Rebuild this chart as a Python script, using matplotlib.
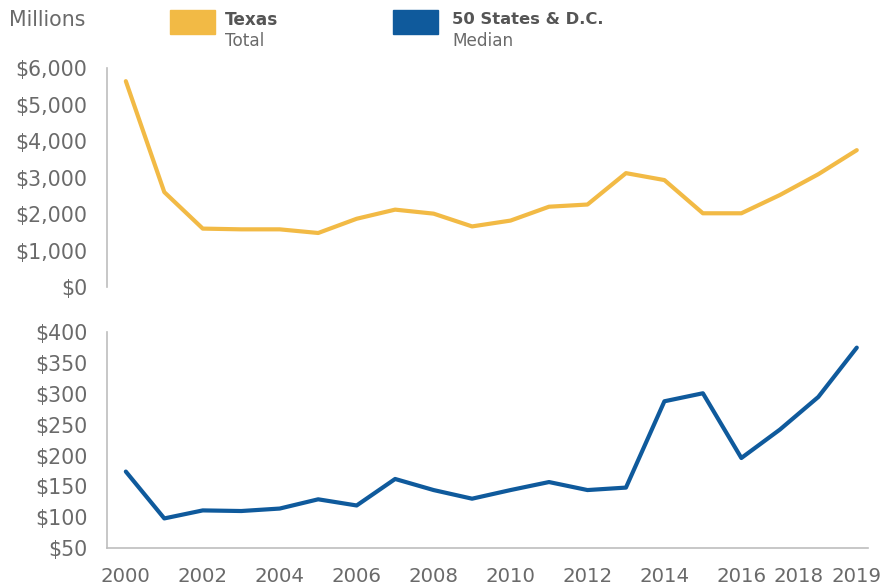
import matplotlib
matplotlib.use("Agg")
import matplotlib.pyplot as plt
import matplotlib.transforms as mtransforms

years = list(range(2000, 2020))
texas_total = [5640, 2600, 1600, 1580, 1580, 1480, 1870, 2120, 2010, 1660,
               1820, 2200, 2260, 3120, 2930, 2020, 2020, 2520, 3090, 3750]
states_median = [174, 98, 111, 110, 114, 129, 119, 162, 144, 130,
                 144, 157, 144, 148, 288, 301, 196, 242, 295, 375]
top_ticks = [0, 1000, 2000, 3000, 4000, 5000, 6000]
bottom_ticks = [50, 100, 150, 200, 250, 300, 350, 400]
xticks = [2000, 2002, 2004, 2006, 2008, 2010, 2012, 2014, 2016, 2018, 2019]

YELLOW = "#F2BA45"
BLUE = "#0F5A9C"
TXT = "#6A6A6A"
SPINE = "#BDBDBD"
FS = 14.8

plt.rcParams['font.family'] = ['DejaVu Sans']

fig = plt.figure(figsize=(8.9, 5.88), dpi=100)
ax1 = fig.add_axes([0.1202, 0.5119, 0.855, 0.3724])
ax2 = fig.add_axes([0.1202, 0.068, 0.855, 0.367])

xlim = (1999.51, 2019.29)

ax1.plot(years, texas_total, color=YELLOW, lw=3.0, solid_joinstyle='round', solid_capstyle='round')
ax1.set_xlim(*xlim)
ax1.set_ylim(0, 6000)
ax1.set_yticks(top_ticks)
ax1.set_yticklabels([f"${v:,}" for v in top_ticks])
ax1.set_xticks([])
for s in ['top', 'right', 'bottom']:
    ax1.spines[s].set_visible(False)
ax1.spines['left'].set_color(SPINE)
ax1.spines['left'].set_linewidth(1.2)
ax1.tick_params(axis='y', length=0, pad=14, labelsize=FS, labelcolor=TXT)

ax2.plot(years, states_median, color=BLUE, lw=3.0, solid_joinstyle='round', solid_capstyle='round')
ax2.set_xlim(*xlim)
ax2.set_ylim(50, 400)
ax2.set_yticks(bottom_ticks)
ax2.set_yticklabels([f"${v}" for v in bottom_ticks])
ax2.set_xticks(xticks)
ax2.set_xticklabels([str(v) for v in xticks])
for s in ['top', 'right']:
    ax2.spines[s].set_visible(False)
for s in ['left', 'bottom']:
    ax2.spines[s].set_color(SPINE)
    ax2.spines[s].set_linewidth(1.2)
ax2.tick_params(axis='both', length=0, labelcolor=TXT)
ax2.tick_params(axis='y', pad=14, labelsize=FS)
ax2.tick_params(axis='x', pad=14, labelsize=14.2)

# shift the 2018 label left to avoid collision with 2019
lbls = ax2.get_xticklabels()
off = mtransforms.ScaledTranslation(-20/100, 0, fig.dpi_scale_trans)
lbls[9].set_transform(lbls[9].get_transform() + off)

# legend / header
fig.text(9/890, 1 - 20/588, "Millions", fontsize=FS, color=TXT, va='center', ha='left')
fig.patches.append(plt.Rectangle((170/890, 1 - 34/588), 45/890, 24/588,
                                 transform=fig.transFigure, color=YELLOW, zorder=3))
fig.text(225/890, 1 - 20/588, "Texas", fontsize=12.2, color="#555555", fontweight='bold', va='center', ha='left')
fig.text(225/890, 1 - 41/588, "Total", fontsize=12.2, color=TXT, va='center', ha='left')
fig.patches.append(plt.Rectangle((393/890, 1 - 34/588), 45/890, 24/588,
                                 transform=fig.transFigure, color=BLUE, zorder=3))
fig.text(452/890, 1 - 20/588, "50 States & D.C.", fontsize=11.8, color="#555555", fontweight='bold', va='center', ha='left')
fig.text(452/890, 1 - 41/588, "Median", fontsize=12.2, color=TXT, va='center', ha='left')

fig.savefig("out.png", dpi=100)
